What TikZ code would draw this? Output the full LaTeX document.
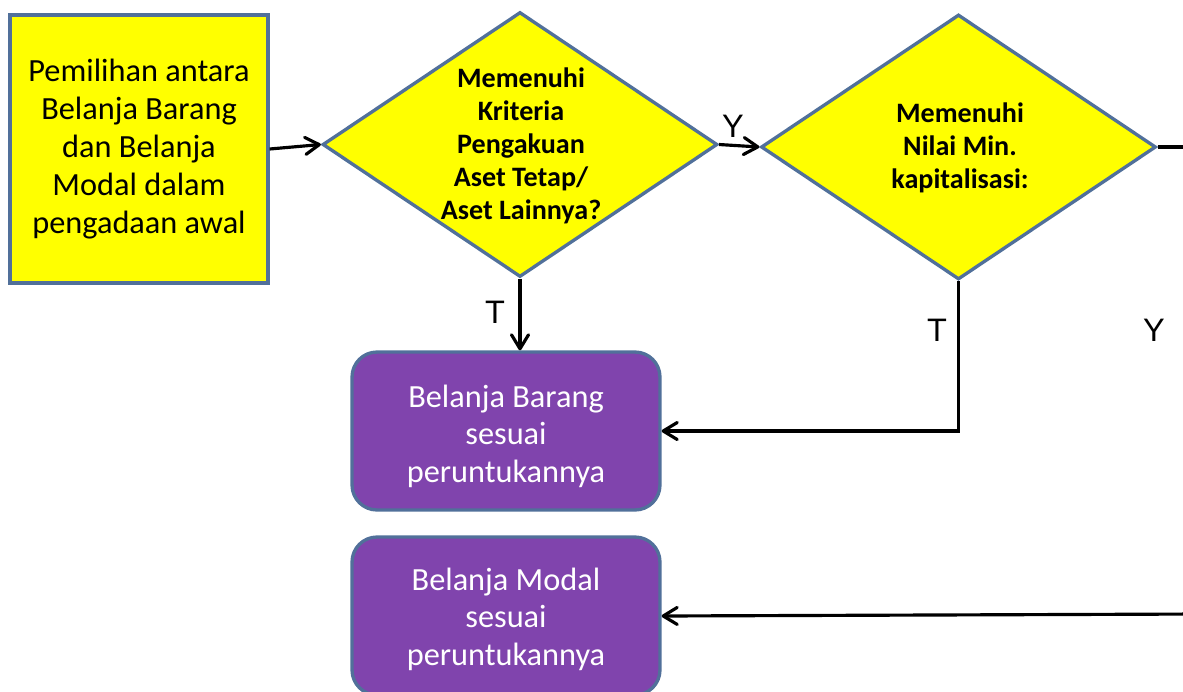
\documentclass[tikz,border=0pt]{standalone}
\usepackage{fontspec}
\setmainfont{Carlito}
\newfontfamily\yesnofont{Liberation Sans}
\usetikzlibrary{shapes,arrows.meta,positioning,calc}
\definecolor{edgeblue}{HTML}{51709A}
\definecolor{boxyellow}{HTML}{FFFF00}
\definecolor{boxpurple}{HTML}{8044AD}

\begin{document}
\begin{tikzpicture}[x=0.02cm, y=-0.02cm,
  startbox/.style={rectangle, draw=edgeblue, line width=1.9pt, fill=boxyellow, minimum width=5.16cm, minimum height=5.36cm, align=center,
    font=\fontsize{18.4}{21.6}\selectfont},
  decision/.style={diamond, draw=edgeblue, line width=1.9pt, fill=boxyellow, inner sep=0pt, minimum width=7.9cm, minimum height=5.3cm},
  dtext/.style={align=center, font=\fontsize{16}{18.8}\selectfont\bfseries},
  outbox/.style={rectangle, rounded corners=0.5cm, draw=edgeblue, line width=1.9pt, fill=boxpurple, text=white, minimum width=6.16cm, minimum height=3.16cm,
    align=center, font=\fontsize{18.4}{21.4}\selectfont},
  yn/.style={font=\yesnofont\fontsize{18.5}{20}\selectfont},
  arr/.style={-{Straight Barb[length=2.8mm, width=3.4mm, round]}, line width=1.8pt, black},
  ln/.style={line width=1.8pt, black}
]
  \clip (0,0) rectangle (1183,691);
  \node[startbox] (choose) at (139,149) {Pemilihan antara\\Belanja Barang\\dan Belanja\\Modal dalam\\pengadaan awal};
  \node[decision] (criteria) at (520,144.5) {};
  \node[dtext] (criteriatext) at (521,146) {Memenuhi\\Kriteria\\Pengakuan\\Aset Tetap/\\Aset Lainnya?};
  \node[decision] (minval) at (958.5,147) {};
  \node[dtext] (minvaltext) at (960,148) {Memenuhi\\Nilai Min.\\kapitalisasi:};
  \node[outbox] (barang) at (506,431) {};
  \node[align=center, text=white, font=\fontsize{18.4}{21.4}\selectfont] (barangtext) at (506,436) {Belanja Barang\\sesuai\\peruntukannya};
  \node[outbox] (modal) at (506,616) {};
  \node[align=center, text=white, font=\fontsize{18.4}{21.4}\selectfont] (modaltext) at (506,619) {Belanja Modal\\sesuai\\peruntukannya};
  \coordinate (offright) at (1200,147);
  \coordinate (offin) at (1200,614);

  \draw[arr] (choose.east) -- (criteria.west);
  \draw[arr] (criteria.east) -- (minval.west);
  \node[yn] (ycrit) at (733,126) {Y};
  \draw[ln] (minval.east) -- (offright);
  \draw[arr] (criteria.south) -- (criteria.south |- barang.north);
  \node[yn] (tcrit) at (495,312) {T};
  \draw[arr] (minval.south) |- (barang.east);
  \node[yn] (tmin) at (937,330) {T};
  \node[yn] (ymin) at (1154,330) {Y};
  \draw[arr] (offin) -- (modal.east);
\end{tikzpicture}
\end{document}
